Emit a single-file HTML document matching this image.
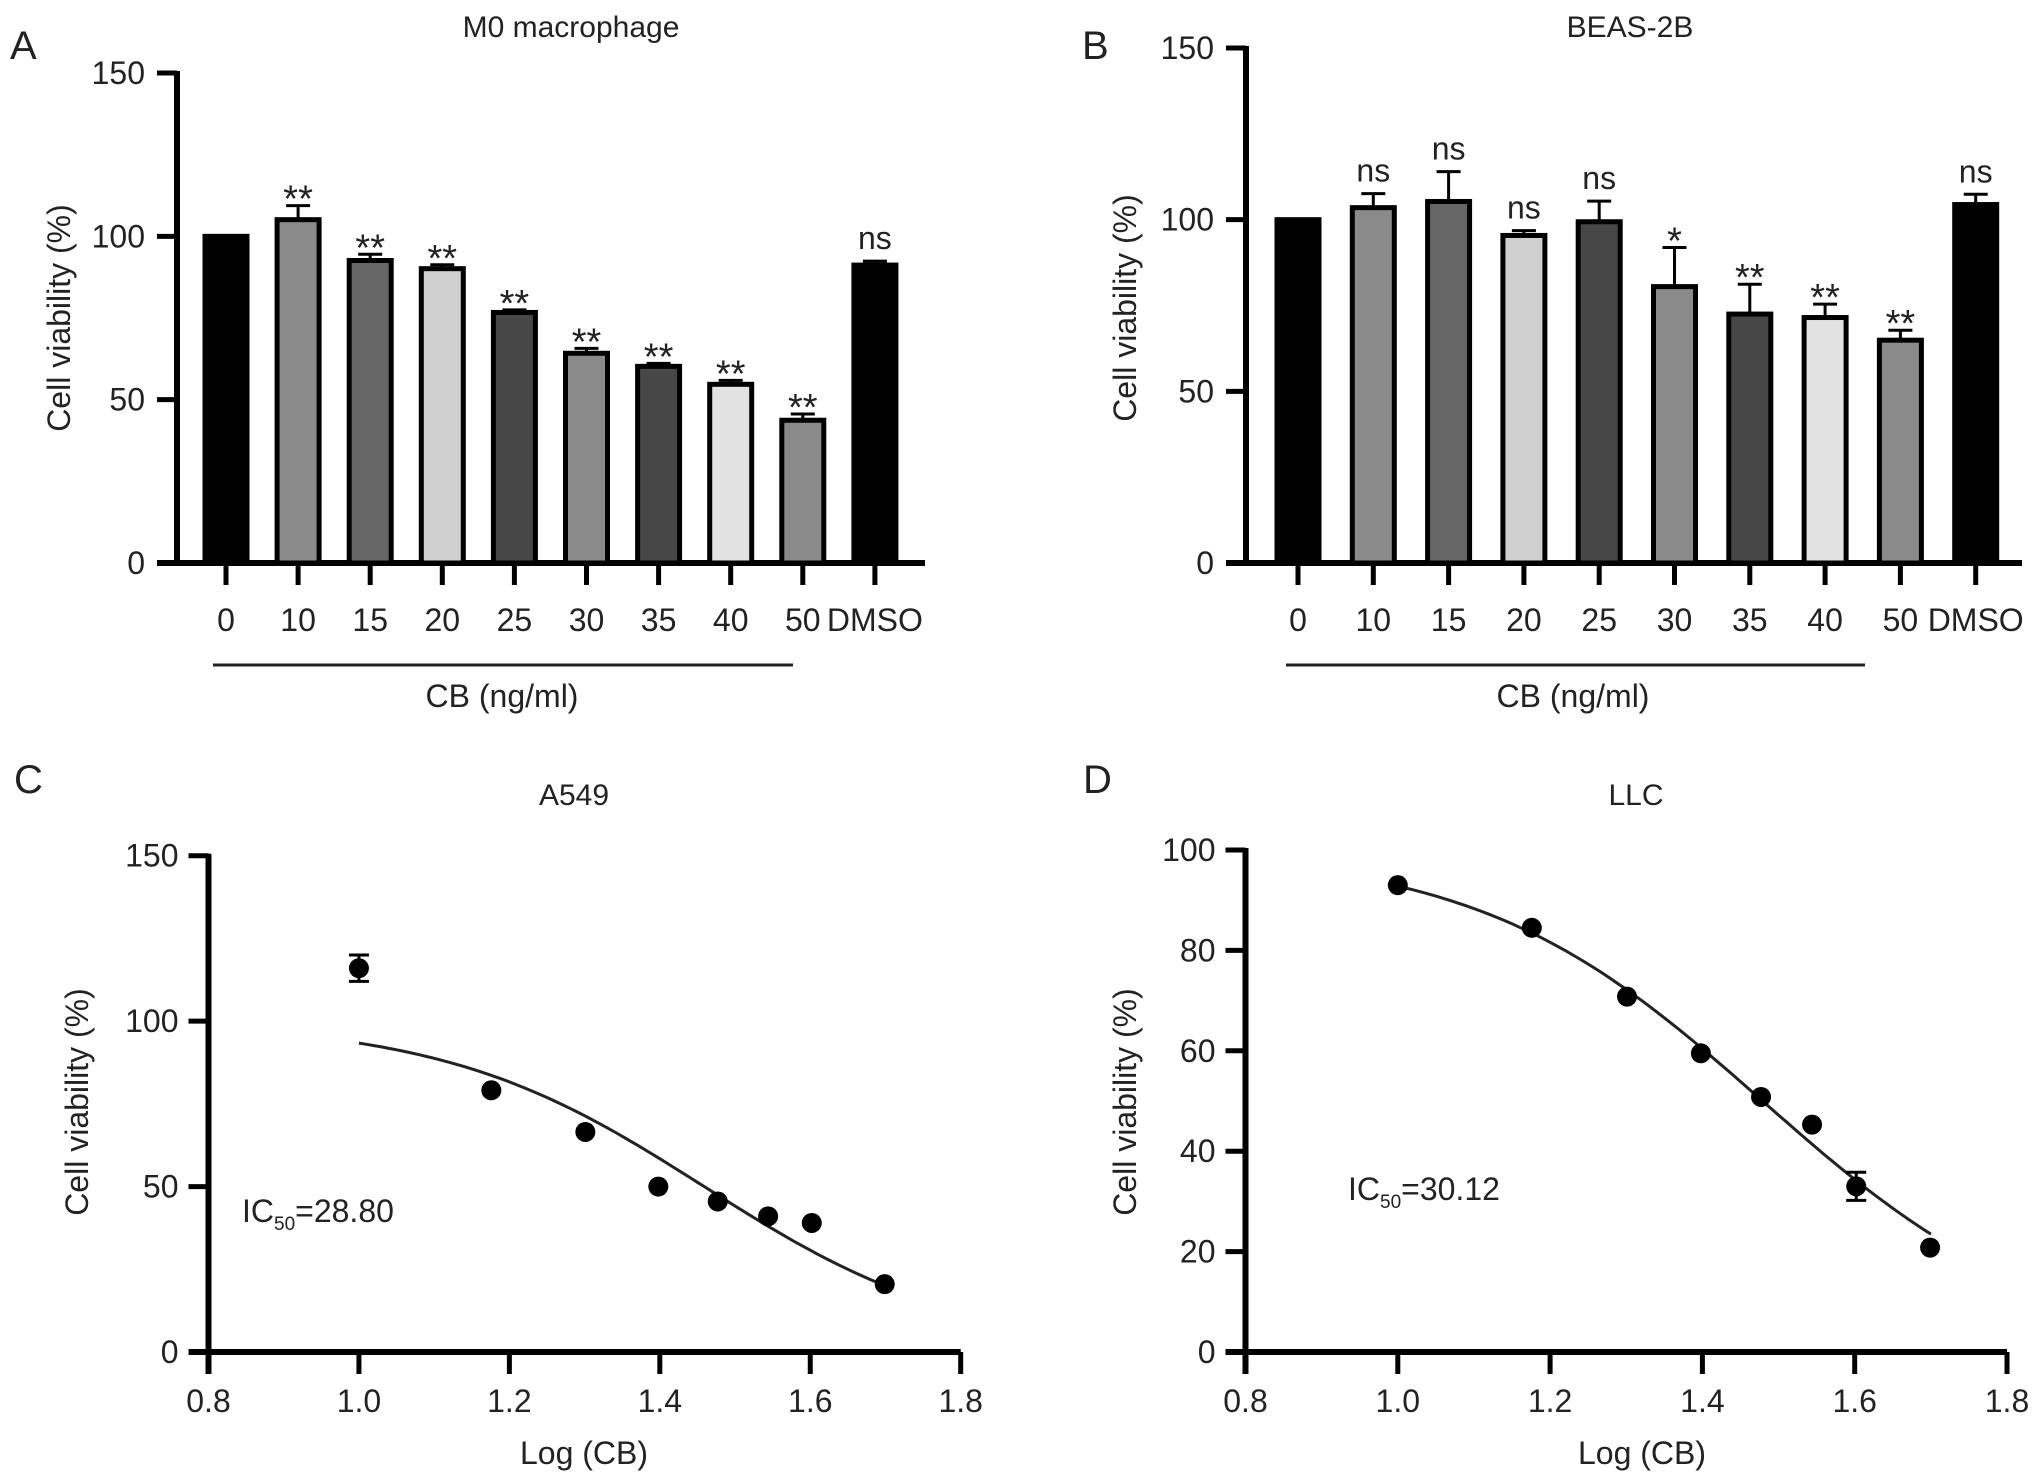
<!DOCTYPE html>
<html><head><meta charset="utf-8"><style>
html,body{margin:0;padding:0;background:#fff;}
svg{display:block;font-family:"Liberation Sans",Arial,sans-serif;}
</style></head><body>
<svg id="fig" width="2032" height="1484" viewBox="0 0 2032 1484" xmlns="http://www.w3.org/2000/svg"></svg>
<script>
// ---- Panel A data (M0 macrophage) ----
const catsA = ["0","10","15","20","25","30","35","40","50","DMSO"];
const valsA = [100,105.1,92.6,90.1,76.7,64.2,60.2,54.7,43.7,91.2];
const errA  = [0,4.3,1.9,1.2,0.8,1.5,0.9,1.2,1.9,1.2];
const sigA  = ["","**","**","**","**","**","**","**","**","ns"];
// ---- Panel B data (BEAS-2B) ----
const catsB = ["0","10","15","20","25","30","35","40","50","DMSO"];
const valsB = [100,103.5,105.3,95.4,99.4,80.5,72.5,71.5,64.9,104.4];
const errB  = [0,4.1,8.7,1.4,6.0,11.4,8.7,3.9,2.9,3.0];
const sigB  = ["","ns","ns","ns","ns","*","**","**","**","ns"];
const barColors = ["#000","#8a8a8a","#666","#cfcfcf","#474747","#8a8a8a","#474747","#e2e2e2","#8a8a8a","#000"];
const yTicksBar = [0,50,100,150];
// ---- Panel C data (A549) ----
const logC = [1.0,1.176,1.301,1.398,1.477,1.544,1.602,1.699];
const valC = [116,79.1,66.5,50,45.5,41,39,20.5];
const errC = [4,0,0,0,0,0,0,0];
// ---- Panel D data (LLC) ----
const logD = [1.0,1.176,1.301,1.398,1.477,1.544,1.602,1.699];
const valD = [93,84.5,70.8,59.5,50.8,45.3,33,20.8];
const errD = [0,0,0,0,0,0,2.8,0];
const xTicks = [0.8,1.0,1.2,1.4,1.6,1.8];
const yTicksC = [0,50,100,150];
const yTicksD = [0,20,40,60,80,100];

const NS="http://www.w3.org/2000/svg";
const svg=document.getElementById('fig');
const FS=32;
function el(tag,attrs,parent,text){
  const e=document.createElementNS(NS,tag);
  for(const k in attrs) e.setAttribute(k,attrs[k]);
  if(text!==undefined) e.textContent=text;
  (parent||svg).appendChild(e); return e;
}
function txt(x,y,s,size,anchor,parent,name){
  const t=el('text',{x:x,y:y,'font-size':size,'text-anchor':anchor||'middle',fill:'#222'},parent,s);
  
  
  return t;
}

function barPanel(cfg){
  const g=el('g',{});
  
  
  const ys=v=>cfg.y0-(v/150)*(cfg.y0-cfg.y150);
  const xs=i=>cfg.x0+i*cfg.step;
  const ya=el('line',{x1:cfg.ax,y1:cfg.y150-2,x2:cfg.ax,y2:cfg.y0,stroke:'#000','stroke-width':6},g);
  
  
  yTicksBar.forEach(t=>{
    const l=el('line',{x1:cfg.ax-20,y1:ys(t),x2:cfg.ax,y2:ys(t),stroke:'#000','stroke-width':5},g);
    
    
    txt(cfg.ax-32,ys(t)+11,String(t),FS,'end',g,'y-tick-label');
  });
  const xa=el('line',{x1:cfg.ax-20,y1:cfg.y0,x2:cfg.xEnd,y2:cfg.y0,stroke:'#000','stroke-width':6},g);
  
  
  cfg.cats.forEach((c,i)=>{
    const x=xs(i);
    const v=cfg.vals[i], e=cfg.err[i];
    const top=ys(v), etop=ys(v+e);
    if(e>0){
      const eb=el('line',{x1:x,y1:top,x2:x,y2:etop,stroke:'#000','stroke-width':3},g);
      
      
      const ec=el('line',{x1:x-12,y1:etop,x2:x+12,y2:etop,stroke:'#000','stroke-width':3},g);
      
      
    }
    const r=el('rect',{x:x-21,y:top,width:42,height:cfg.y0-top,fill:barColors[i],stroke:'#000','stroke-width':5},g);
    
    
    const tk=el('line',{x1:x,y1:cfg.y0,x2:x,y2:cfg.y0+22,stroke:'#000','stroke-width':5},g);
    
    
    txt(x,631,c,FS,'middle',g,'x-tick-label');
    const s=cfg.sig[i];
    if(s){
      const sy = s==='ns' ? etop-12 : etop+6;
      txt(x,sy,s,s==='ns'?FS:38,'middle',g,'significance-label');
    }
  });
  const br=el('line',{x1:cfg.brX1,y1:665,x2:cfg.brX2,y2:665,stroke:'#222','stroke-width':3},g);
  
  
  txt(cfg.cbX,707,'CB (ng/ml)',FS,'middle',g,'x-axis-title');
  txt(cfg.titleX,37,cfg.title,30,'middle',g,'chart-title');
  txt(cfg.letterX,59,cfg.letter,40,'start',g,'panel-letter');
  const yl=txt(0,0,'Cell viability (%)',FS,'middle',g,'y-axis-title');
  yl.setAttribute('transform','translate('+(cfg.ylX)+','+cfg.ylY+') rotate(-90)');
}

barPanel({name:'panel-a',cats:catsA,vals:valsA,err:errA,sig:sigA,ax:177,y0:563,y150:73,x0:226,step:72.1,xEnd:925,
  brX1:213,brX2:793,cbX:502,titleX:571,title:'M0 macrophage',letter:'A',letterX:10,ylX:70,ylY:318});
barPanel({name:'panel-b',cats:catsB,vals:valsB,err:errB,sig:sigB,ax:1246,y0:563,y150:48,x0:1298,step:75.3,xEnd:2022,
  brX1:1286,brX2:1865,cbX:1573,titleX:1630,title:'BEAS-2B',letter:'B',letterX:1082,ylX:1136,ylY:308});

function curvePanel(cfg){
  const g=el('g',{});
  
  
  const xs=v=>cfg.ax+(v-0.8)/1.0*(cfg.x18-cfg.ax);
  const ys=v=>cfg.y0-(v/cfg.ymax)*(cfg.y0-cfg.ytop);
  const ya=el('line',{x1:cfg.ax,y1:cfg.ytop-2,x2:cfg.ax,y2:cfg.y0+22,stroke:'#000','stroke-width':6},g);
  
  
  cfg.yt.forEach(t=>{
    const l=el('line',{x1:cfg.ax-20,y1:ys(t),x2:cfg.ax,y2:ys(t),stroke:'#000','stroke-width':5},g);
    
    
    txt(cfg.ax-30,ys(t)+11,String(t),FS,'end',g,'y-tick-label');
  });
  const xa=el('line',{x1:cfg.ax-20,y1:cfg.y0,x2:cfg.x18,y2:cfg.y0,stroke:'#000','stroke-width':6},g);
  
  
  xTicks.forEach(t=>{
    const l=el('line',{x1:xs(t),y1:cfg.y0,x2:xs(t),y2:cfg.y0+22,stroke:'#000','stroke-width':5},g);
    
    
    txt(xs(t),1412,t.toFixed(1),FS,'middle',g,'x-tick-label');
  });
  let d='';
  for(let k=0;k<=70;k++){
    const x=1.0+k*0.01;
    const y=cfg.bot+(cfg.top-cfg.bot)/(1+Math.pow(10,(x-cfg.logIC)*cfg.h));
    d+=(k?'L':'M')+xs(x).toFixed(1)+','+ys(y).toFixed(1);
  }
  const p=el('path',{d:d,fill:'none',stroke:'#222','stroke-width':3},g);
  
  
  cfg.xv.forEach((x,i)=>{
    const cx=xs(x), cy=ys(cfg.yv[i]), e=cfg.ev[i];
    if(e>0){
      const eb=el('path',{d:'M'+cx+','+ys(cfg.yv[i]+e)+'V'+ys(cfg.yv[i]-e)+'M'+(cx-10)+','+ys(cfg.yv[i]+e)+'h20M'+(cx-10)+','+ys(cfg.yv[i]-e)+'h20',stroke:'#000','stroke-width':3,fill:'none'},g);
      
      
    }
    const c=el('circle',{cx:cx,cy:cy,r:10,fill:'#000'},g);
    
    
  });
  const ic=el('text',{x:cfg.icX,y:cfg.icY,'font-size':FS,fill:'#222'},g);
  
  
  el('tspan',{},ic,'IC');
  el('tspan',{'font-size':19,dy:8},ic,'50');
  el('tspan',{dy:-8},ic,'='+cfg.ic);
  txt(cfg.logX,1464,'Log (CB)',FS,'middle',g,'x-axis-title');
  txt(cfg.titleX,805,cfg.title,30,'middle',g,'chart-title');
  txt(cfg.letterX,793,cfg.letter,40,'start',g,'panel-letter');
  const yl=txt(0,0,'Cell viability (%)',FS,'middle',g,'y-axis-title');
  yl.setAttribute('transform','translate('+cfg.ylX+','+cfg.ylY+') rotate(-90)');
}

curvePanel({name:'panel-c',xv:logC,yv:valC,ev:errC,ax:208.5,x18:960.7,y0:1352,ytop:855.7,ymax:150,yt:yTicksC,
  top:100,bot:0,logIC:1.459,h:2.5,icX:242,icY:1222,ic:'28.80',logX:584,titleX:574,title:'A549',letter:'C',letterX:14,ylX:88,ylY:1102});
curvePanel({name:'panel-d',xv:logD,yv:valD,ev:errD,ax:1245.5,x18:2007,y0:1352,ytop:850,ymax:100,yt:yTicksD,
  top:100,bot:0,logIC:1.479,h:2.32,icX:1348,icY:1200,ic:'30.12',logX:1642,titleX:1636,title:'LLC',letter:'D',letterX:1083,ylX:1136,ylY:1102});
</script>
</body></html>
